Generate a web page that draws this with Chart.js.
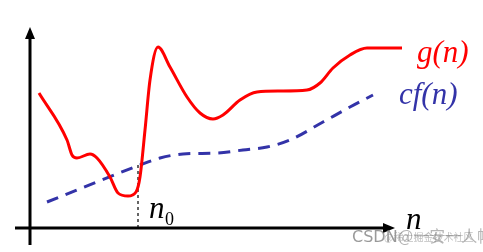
<!DOCTYPE html>
<html>
<head>
<meta charset="utf-8">
<script src="https://cdn.jsdelivr.net/npm/chart.js@4/dist/chart.umd.min.js"></script>
<style>
  html, body { margin: 0; padding: 0; background: #fff; }
  canvas { display: block; }
</style>
</head>
<body>
<canvas id="grafico" width="483" height="252"></canvas>
<script>
// g(n): curva vermelha
const gX = [9, 37, 42, 47, 60, 67, 80, 88, 98, 106, 110, 115, 120, 128, 140, 157, 170, 183, 193, 210, 227, 250, 277, 290, 303, 320, 337, 372];
const gY = [135, 88, 73, 70, 74, 70, 51, 35, 32, 36, 51, 98, 148, 181, 161, 131, 115, 109, 113, 128, 136, 137, 138, 145, 160, 173, 180, 180];

// c·f(n): curva azul tracejada
const cfX = [17, 110, 130, 153, 187, 213, 237, 260, 293, 320, 343];
const cfY = [26, 63, 70, 74, 75, 78, 81, 88, 106, 121, 133];

// n0 e limites dos eixos
const n0 = 108;
const n0Y = 63;
const eixoX = [-15, 365];
const eixoY = [-17, 201];

const pontos = (xs, ys) => xs.map((x, i) => ({ x, y: ys[i] }));

const eixosPlugin = {
  id: 'eixos',
  afterDatasetsDraw(chart) {
    const { ctx: c, scales: { x, y } } = chart;
    const x0 = x.getPixelForValue(0);
    const y0 = y.getPixelForValue(0);
    const xFim = x.getPixelForValue(eixoX[1]);
    const yFim = y.getPixelForValue(eixoY[1]);
    c.save();
    c.strokeStyle = '#000';
    c.fillStyle = '#000';
    c.lineWidth = 3;
    c.beginPath();
    c.moveTo(x.getPixelForValue(eixoX[0]), y0);
    c.lineTo(xFim - 8, y0);
    c.moveTo(x0, y.getPixelForValue(eixoY[0]));
    c.lineTo(x0, yFim + 8);
    c.stroke();
    // setas
    c.beginPath();
    c.moveTo(xFim, y0);
    c.lineTo(xFim - 12, y0 - 5);
    c.lineTo(xFim - 12, y0 + 5);
    c.closePath();
    c.fill();
    c.beginPath();
    c.moveTo(x0, yFim);
    c.lineTo(x0 - 5, yFim + 12);
    c.lineTo(x0 + 5, yFim + 12);
    c.closePath();
    c.fill();

    // rótulos
    c.textBaseline = 'alphabetic';
    c.font = 'italic 31px "Liberation Serif", "DejaVu Serif", serif';
    c.fillStyle = '#ff0000';
    c.fillText('g(n)', 417, 62);
    c.fillStyle = '#3333a8';
    c.fillText('cf(n)', 399, 104);
    c.fillStyle = '#000';
    c.fillText('n', 149, 218);
    c.fillText('n', 406, 229);
    c.font = '18px "Liberation Serif", "DejaVu Serif", serif';
    c.fillText('0', 165, 225);

    // marca d'água
    c.font = '16px "DejaVu Sans", sans-serif';
    c.fillStyle = 'rgba(120,120,120,0.75)';
    c.fillText('CSDN', 352, 242);
    c.font = '10px "Noto Sans CJK SC", sans-serif';
    c.fillStyle = 'rgba(150,150,150,0.6)';
    c.fillText('@稀土掘金技术社区', 384, 241);
    c.font = '16px "Noto Sans CJK SC", sans-serif';
    c.fillStyle = 'rgba(120,120,120,0.55)';
    c.fillText('@一安一人帐', 398, 242);
    c.restore();
  }
};

new Chart(document.getElementById('grafico').getContext('2d'), {
  type: 'line',
  data: {
    datasets: [
      {
        label: 'g(n)',
        data: pontos(gX, gY),
        borderColor: '#ff0000',
        borderWidth: 3,
        pointRadius: 0,
        cubicInterpolationMode: 'monotone',
        fill: false,
      },
      {
        label: 'cf(n)',
        data: pontos(cfX, cfY),
        borderColor: '#3333a8',
        borderWidth: 3,
        borderDash: [12, 8],
        pointRadius: 0,
        cubicInterpolationMode: 'monotone',
        fill: false,
      },
      {
        label: 'n0',
        data: [{ x: n0, y: 0 }, { x: n0, y: n0Y }],
        borderColor: '#000',
        borderWidth: 1.2,
        borderDash: [3, 3],
        pointRadius: 0,
        tension: 0,
        fill: false,
      }
    ]
  },
  options: {
    responsive: false,
    animation: false,
    layout: { padding: 0 },
    plugins: { legend: { display: false }, tooltip: { enabled: false } },
    scales: {
      x: { type: 'linear', min: -30, max: 453, display: false },
      y: { type: 'linear', min: -24, max: 228, display: false }
    }
  },
  plugins: [eixosPlugin]
});
</script>
</body>
</html>
